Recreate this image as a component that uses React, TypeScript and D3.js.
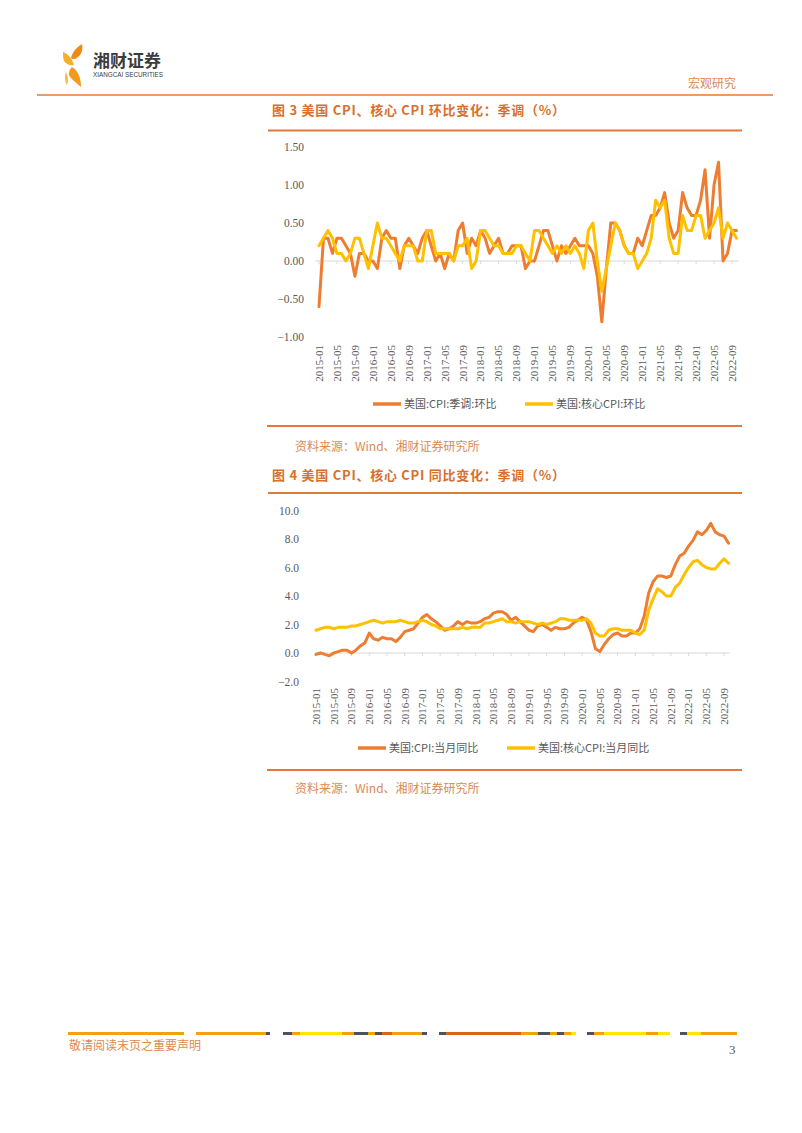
import React from "react";
import * as d3 from "d3";

// ---------- DATA ----------
const months: string[] = (() => {
  const out: string[] = [];
  for (let y = 2015; y <= 2022; y++) {
    for (let m = 1; m <= 12; m++) {
      if (y === 2022 && m > 10) break;
      out.push(`${y}-${String(m).padStart(2, "0")}`);
    }
  }
  return out;
})();

const tickLabels = months.filter((_, i) => i % 4 === 0);

// 美国:CPI:季调:环比 (%)
const cpiMoM = [
  -0.6, 0.3, 0.3, 0.1, 0.3, 0.3, 0.2, 0.1, -0.2, 0.1, 0.1, 0.0,
  0.0, -0.1, 0.3, 0.4, 0.3, 0.3, -0.1, 0.2, 0.3, 0.2, 0.1, 0.3,
  0.4, 0.2, 0.0, 0.1, -0.1, 0.1, 0.0, 0.4, 0.5, 0.1, 0.3, 0.2,
  0.4, 0.3, 0.1, 0.2, 0.3, 0.1, 0.1, 0.2, 0.2, 0.2, -0.1, 0.0,
  0.0, 0.2, 0.4, 0.4, 0.2, 0.0, 0.2, 0.1, 0.2, 0.3, 0.2, 0.2,
  0.2, 0.1, -0.2, -0.8, -0.1, 0.5, 0.5, 0.4, 0.2, 0.1, 0.1, 0.3,
  0.2, 0.4, 0.6, 0.6, 0.7, 0.9, 0.5, 0.3, 0.4, 0.9, 0.7, 0.6,
  0.6, 0.8, 1.2, 0.3, 1.0, 1.3, 0.0, 0.1, 0.4, 0.4,
];

// 美国:核心CPI:环比 (%)
const coreMoM = [
  0.2, 0.3, 0.4, 0.3, 0.1, 0.1, 0.0, 0.1, 0.3, 0.3, 0.1, -0.1,
  0.2, 0.5, 0.3, 0.3, 0.2, 0.1, 0.0, 0.2, 0.2, 0.2, 0.0, 0.0,
  0.4, 0.4, 0.1, 0.1, 0.1, 0.1, 0.0, 0.2, 0.2, 0.3, -0.1, 0.0,
  0.4, 0.4, 0.3, 0.2, 0.2, 0.1, 0.1, 0.1, 0.2, 0.2, 0.1, 0.0,
  0.4, 0.4, 0.3, 0.2, 0.1, 0.2, 0.1, 0.2, 0.1, 0.2, 0.1, -0.1,
  0.4, 0.5, 0.0, -0.4, -0.1, 0.2, 0.5, 0.4, 0.2, 0.1, 0.1, -0.1,
  0.0, 0.1, 0.3, 0.8, 0.7, 0.8, 0.3, 0.1, 0.1, 0.6, 0.4, 0.4,
  0.6, 0.6, 0.3, 0.4, 0.5, 0.7, 0.3, 0.5, 0.4, 0.3,
];

// 美国:CPI:当月同比 (%)
const cpiYoY = [
  -0.1, 0.0, -0.1, -0.2, 0.0, 0.1, 0.2, 0.2, 0.0, 0.2, 0.5, 0.7,
  1.4, 1.0, 0.9, 1.1, 1.0, 1.0, 0.8, 1.1, 1.5, 1.6, 1.7, 2.1,
  2.5, 2.7, 2.4, 2.2, 1.9, 1.6, 1.7, 1.9, 2.2, 2.0, 2.2, 2.1,
  2.1, 2.2, 2.4, 2.5, 2.8, 2.9, 2.9, 2.7, 2.3, 2.5, 2.2, 1.9,
  1.6, 1.5, 1.9, 2.0, 1.8, 1.6, 1.8, 1.7, 1.7, 1.8, 2.1, 2.3,
  2.5, 2.3, 1.5, 0.3, 0.1, 0.6, 1.0, 1.3, 1.4, 1.2, 1.2, 1.4,
  1.4, 1.7, 2.6, 4.2, 5.0, 5.4, 5.4, 5.3, 5.4, 6.2, 6.8, 7.0,
  7.5, 7.9, 8.5, 8.3, 8.6, 9.1, 8.5, 8.3, 8.2, 7.7,
];

// 美国:核心CPI:当月同比 (%)
const coreYoY = [
  1.6, 1.7, 1.8, 1.8, 1.7, 1.8, 1.8, 1.8, 1.9, 1.9, 2.0, 2.1,
  2.2, 2.3, 2.2, 2.1, 2.2, 2.2, 2.2, 2.3, 2.2, 2.1, 2.1, 2.2,
  2.3, 2.2, 2.0, 1.9, 1.7, 1.7, 1.7, 1.7, 1.7, 1.8, 1.7, 1.8,
  1.8, 1.8, 2.1, 2.1, 2.2, 2.3, 2.4, 2.2, 2.2, 2.1, 2.2, 2.2,
  2.2, 2.1, 2.0, 2.1, 2.0, 2.1, 2.2, 2.4, 2.4, 2.3, 2.3, 2.3,
  2.3, 2.4, 2.1, 1.4, 1.2, 1.2, 1.6, 1.7, 1.7, 1.6, 1.6, 1.6,
  1.4, 1.3, 1.6, 3.0, 3.8, 4.5, 4.3, 4.0, 4.0, 4.6, 4.9, 5.5,
  6.0, 6.4, 6.5, 6.2, 6.0, 5.9, 5.9, 6.3, 6.6, 6.3,
];

const yTicks1 = [-1, -0.5, 0, 0.5, 1, 1.5];
const yTicks2 = [-2, 0, 2, 4, 6, 8, 10];

const legend1 = ["美国:CPI:季调:环比", "美国:核心CPI:环比"];
const legend2 = ["美国:CPI:当月同比", "美国:核心CPI:当月同比"];

// footer stripe segments: [x0, x1, colorKey]
const footerSegs: [number, number, string][] = [
  [68, 184, "o"], [196, 266, "o"], [266, 270, "d"],
  [283, 292, "d"], [292, 300, "o"], [300, 342, "y"], [342, 354, "o"], [354, 368, "d"], [368, 375, "o"], [375, 382, "d"], [382, 392, "r"], [392, 422, "o"], [422, 427, "d"],
  [439, 446, "d"], [446, 521, "r"], [521, 538, "o"], [538, 550, "d"], [550, 557, "o"], [557, 564, "d"], [564, 571, "o"], [571, 576, "y"],
  [587, 594, "d"], [594, 604, "o"], [604, 646, "y"], [646, 658, "o"], [658, 670, "y"],
  [680, 687, "d"], [687, 701, "y"], [701, 737, "o"],
];

// ---------- STYLE ----------
const ORANGE = "#ED7D31";
const YELLOW = "#FFC000";
const ACCENT = "#E07B36";
const TITLE = "#D8702C";
const SOFT = "#D98A55";
const AXIS_TXT = "#595959";
const SERIF = "'Liberation Serif', 'Times New Roman', serif";
const CJK = "'Noto Sans CJK SC', 'Liberation Serif', serif";

type ChartProps = {
  a: number[];
  b: number[];
  x0: number; x1: number;
  yDomain: [number, number]; yRange: [number, number];
  yTicks: number[]; yFmt: (v: number) => string; yLabelX: number;
  labelTop: number;
  axisX0: number; axisX1: number;
  legendY: number; legend: string[]; legendX: [number, number];
};

function LineChart(p: ChartProps) {
  const x = d3.scalePoint<string>().domain(months).range([p.x0, p.x1]);
  const y = d3.scaleLinear().domain(p.yDomain).range(p.yRange);
  const line = (vals: number[]) =>
    d3.line<number>().x((_, i) => x(months[i]) as number).y((v) => y(v))(vals) as string;
  const y0 = y(0);
  return (
    <g>
      {p.yTicks.map((t) => (
        <text key={t} x={p.yLabelX} y={y(t)} dy="0.35em" textAnchor="end"
          fontFamily={SERIF} fontSize={11.5} fill={AXIS_TXT}>{p.yFmt(t)}</text>
      ))}
      <line x1={p.axisX0} x2={p.axisX1} y1={y0} y2={y0} stroke="#D9D9D9" strokeWidth={1} />
      {tickLabels.map((m) => (
        <line key={"t" + m} x1={x(m)} x2={x(m)} y1={y0} y2={y0 + 3} stroke="#D9D9D9" strokeWidth={1} />
      ))}
      {tickLabels.map((m) => (
        <text key={m} transform={`translate(${x(m)},${p.labelTop}) rotate(-90)`} dy="0.35em"
          textAnchor="end" fontFamily={SERIF} fontSize={11} fill={AXIS_TXT}>{m}</text>
      ))}
      <path d={line(p.a)} fill="none" stroke={ORANGE} strokeWidth={3} strokeLinejoin="round" strokeLinecap="round" />
      <path d={line(p.b)} fill="none" stroke={YELLOW} strokeWidth={3} strokeLinejoin="round" strokeLinecap="round" />
      {[ORANGE, YELLOW].map((c, i) => (
        <g key={c}>
          <line x1={p.legendX[i]} x2={p.legendX[i] + 28} y1={p.legendY} y2={p.legendY} stroke={c} strokeWidth={3.5} />
          <text x={p.legendX[i] + 31} y={p.legendY} dy="0.35em" fontFamily={CJK} fontSize={11} fill={AXIS_TXT}>{p.legend[i]}</text>
        </g>
      ))}
    </g>
  );
}

function Logo() {
  return (
    <g>
      <path d="M71 58 C73 51 77 47 82 44 C83 49 82 54 78 57 C76 59 73 60 71 58 Z" fill="#EF8A12" />
      <path d="M63 52 C68 54 72 58 74 65 C70 66 66 64 64 61 C63 58 63 55 63 52 Z" fill="#F6B02A" />
      <path d="M72 67 C77 70 81 76 81 87 C77 84 73 80 70 77 C68 74 69 70 72 67 Z" fill="#F29A1F" />
      <path d="M66 72 C68 76 69 80 67 85 C65 82 64 78 66 72 Z" fill="#F7C04A" />
      <text x={93} y={67} fontFamily="'Noto Sans CJK SC', sans-serif" fontWeight={700} fontSize={17} fill="#3C3C3C">湘财证券</text>
      <text x={93} y={77} fontFamily="'Liberation Sans', Arial, sans-serif" fontSize={8} fill="#3C3C3C"
        textLength={70} lengthAdjust="spacingAndGlyphs">XIANGCAI SECURITIES</text>
    </g>
  );
}

export default function App() {
  const footColors: Record<string, string> = { o: "#F2A20C", y: "#FFE500", d: "#4C5260", r: "#D9651B" };
  return (
    <svg width={802} height={1133} style={{ position: "absolute", left: 0, top: 0, background: "#fff" }}>
      <rect width={802} height={1133} fill="#fff" />
      <Logo />
      <text x={688} y={88} fontFamily={CJK} fontSize={12} fill={SOFT}>宏观研究</text>
      <line x1={37} x2={773} y1={95} y2={95} stroke={ACCENT} strokeWidth={1.5} />

      {/* Figure 3 */}
      <text x={272} y={115} fontFamily={CJK} fontWeight={700} fontSize={13} fill={TITLE}
        textLength={293} lengthAdjust="spacing">图 3 美国 CPI、核心 CPI 环比变化：季调（%）</text>
      <line x1={268} x2={742} y1={130.5} y2={130.5} stroke={ACCENT} strokeWidth={2} />
      <LineChart a={cpiMoM} b={coreMoM} x0={319} x1={736.5}
        yDomain={[-1, 1.5]} yRange={[337, 147]} yTicks={yTicks1} yFmt={d3.format(".2f")} yLabelX={304}
        labelTop={345} axisX0={315} axisX1={739} legendY={404} legend={legend1} legendX={[373, 525]} />
      <line x1={267} x2={742} y1={426} y2={426} stroke={ACCENT} strokeWidth={2} />
      <text x={295} y={451} fontFamily={CJK} fontSize={12} fill={SOFT}>资料来源：Wind、湘财证券研究所</text>

      {/* Figure 4 */}
      <text x={272} y={480} fontFamily={CJK} fontWeight={700} fontSize={13} fill={TITLE}
        textLength={293} lengthAdjust="spacing">图 4 美国 CPI、核心 CPI 同比变化：季调（%）</text>
      <line x1={268} x2={742} y1={493} y2={493} stroke={ACCENT} strokeWidth={2} />
      <LineChart a={cpiYoY} b={coreYoY} x0={316} x1={728.5}
        yDomain={[-2, 10]} yRange={[681.5, 510.5]} yTicks={yTicks2} yFmt={d3.format(".1f")} yLabelX={299}
        labelTop={688} axisX0={315} axisX1={730} legendY={748} legend={legend2} legendX={[358, 507]} />
      <line x1={267} x2={742} y1={770} y2={770} stroke={ACCENT} strokeWidth={2} />
      <text x={295} y={793} fontFamily={CJK} fontSize={12} fill={SOFT}>资料来源：Wind、湘财证券研究所</text>

      {/* Footer */}
      {footerSegs.map(([a, b, c], i) => (
        <rect key={i} x={a} y={1032} width={b - a} height={3} fill={footColors[c]} />
      ))}
      <text x={69} y={1050} fontFamily={CJK} fontSize={12} fill={SOFT}>敬请阅读末页之重要声明</text>
      <text x={729} y={1054} fontFamily={SERIF} fontSize={13} fill={AXIS_TXT}>3</text>
    </svg>
  );
}
